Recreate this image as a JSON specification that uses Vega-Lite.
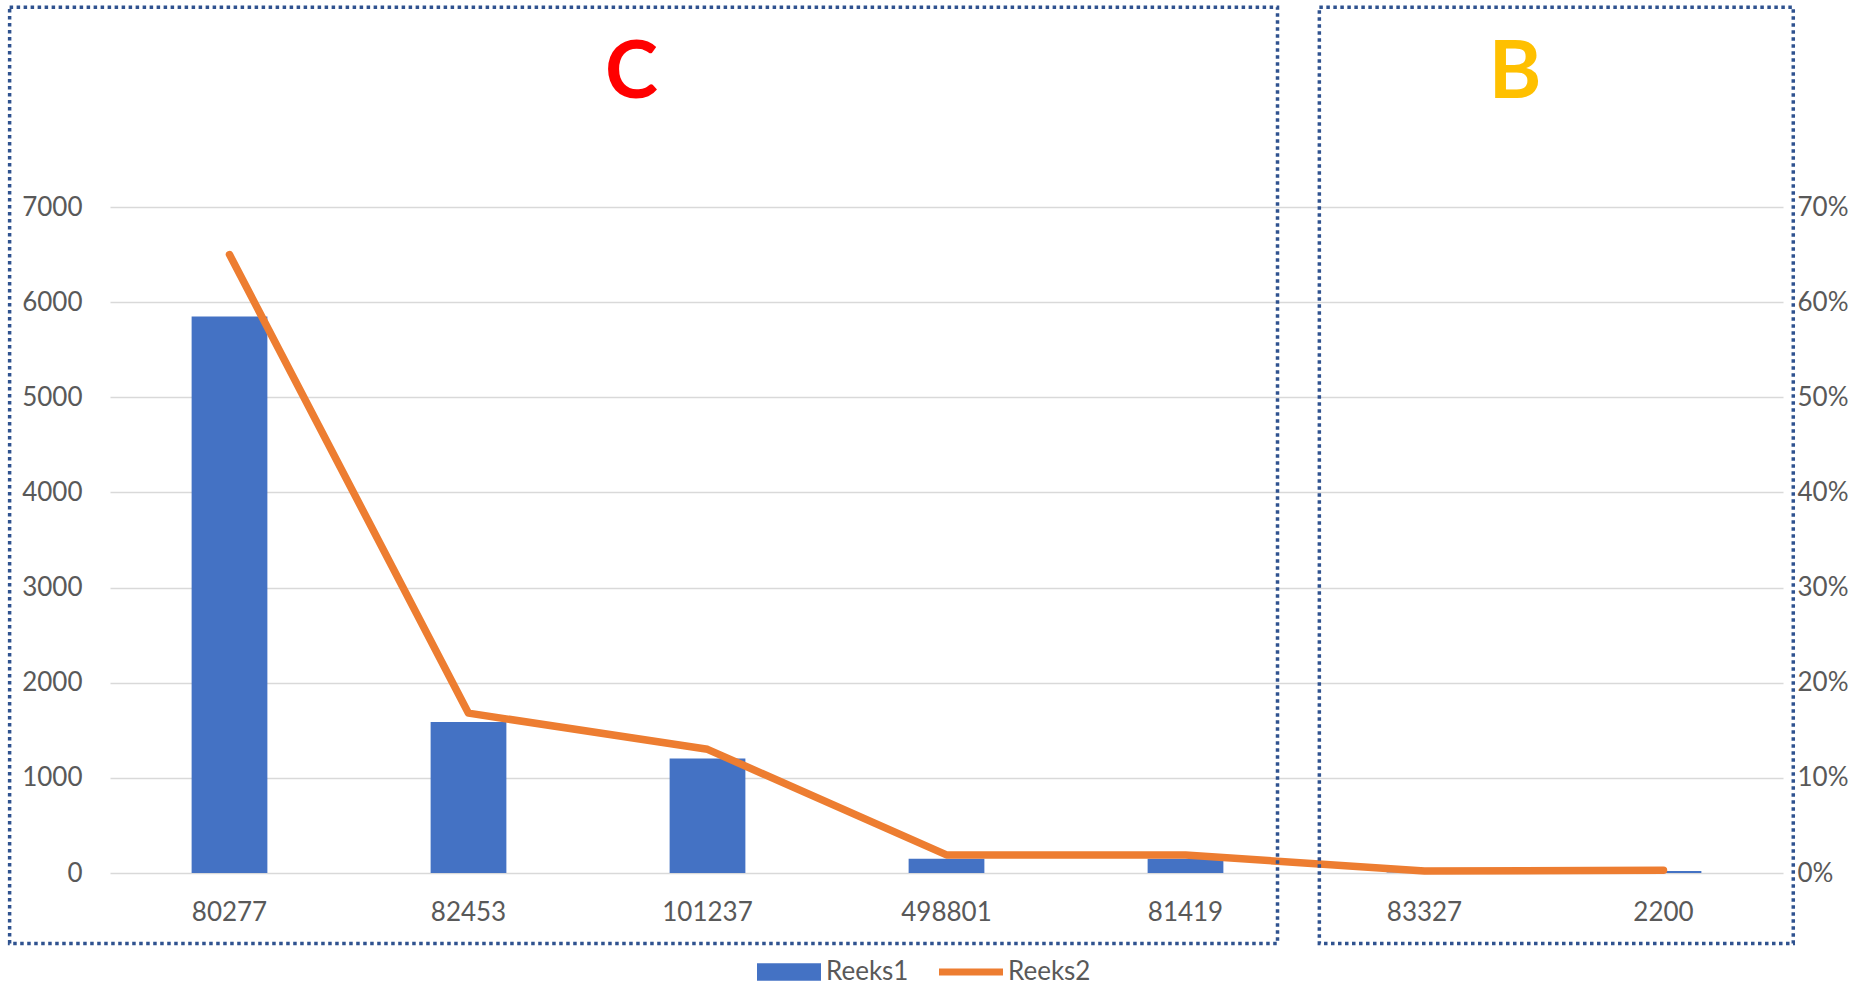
{
  "$schema": "https://vega.github.io/schema/vega-lite/v6.json",
  "width": 1673,
  "height": 666,
  "autosize": {"type": "none"},
  "padding": {"left": 110, "top": 207, "right": 89, "bottom": 112},
  "background": "white",
  "config": {"view": {"stroke": null}, "font": "Lato"},
  "data": {
    "values": [
      {"id": "80277", "Reeks1": 5850, "Reeks2": 0.65},
      {"id": "82453", "Reeks1": 1586, "Reeks2": 0.168},
      {"id": "101237", "Reeks1": 1204, "Reeks2": 0.13},
      {"id": "498801", "Reeks1": 150, "Reeks2": 0.019},
      {"id": "81419", "Reeks1": 150, "Reeks2": 0.019},
      {"id": "83327", "Reeks1": 4, "Reeks2": 0.002},
      {"id": "2200", "Reeks1": 20, "Reeks2": 0.003}
    ]
  },
  "layer": [
    {
      "mark": {"type": "bar"},
      "encoding": {
        "x": {
          "field": "id", "type": "nominal", "sort": null,
          "scale": {"paddingInner": 0.683, "paddingOuter": 0.3415},
          "axis": {"title": null, "labelAngle": 0, "domain": false, "ticks": false, "labelPadding": 26, "labelFontSize": 26, "labelFont": "Lato", "labelColor": "#595959"}
        },
        "y": {
          "field": "Reeks1", "type": "quantitative",
          "scale": {"domain": [0, 7000], "nice": false},
          "axis": {"title": null, "format": "d", "values": [0, 1000, 2000, 3000, 4000, 5000, 6000, 7000], "domain": false, "ticks": false, "grid": true, "gridColor": "#D9D9D9", "gridWidth": 1.3, "labelPadding": 28, "labelFontSize": 26, "labelFont": "Lato", "labelColor": "#595959"}
        },
        "color": {
          "datum": "Reeks1",
          "scale": {"domain": ["Reeks1", "Reeks2"], "range": ["#4472C4", "#ED7D31"]},
          "legend": {
            "orient": "none", "legendX": 647, "legendY": 733, "direction": "horizontal", "title": null,
            "symbolSize": 4096, "labelFontSize": 26, "labelFont": "Lato", "labelColor": "#595959",
            "labelOffset": 5, "columnPadding": 30, "symbolStrokeWidth": 0,
            "encode": {"symbols": {"update": {
              "shape": {"signal": "datum.value === 'Reeks1' ? 'M-1,-0.27H1V0.27H-1Z' : 'M-1,-0.11H1V0.11H-1Z'"},
              "fill": {"signal": "datum.value === 'Reeks1' ? '#4472C4' : '#ED7D31'"},
              "stroke": {"value": "transparent"},
              "opacity": {"value": 1}
            }}}
          }
        }
      }
    },
    {
      "mark": {"type": "line", "strokeWidth": 7.5, "strokeCap": "round", "strokeJoin": "round"},
      "encoding": {
        "x": {"field": "id", "type": "nominal", "sort": null, "scale": {"paddingInner": 0.683, "paddingOuter": 0.3415}, "axis": null},
        "y": {
          "field": "Reeks2", "type": "quantitative",
          "scale": {"domain": [0, 0.7], "nice": false},
          "axis": {"orient": "right", "title": null, "format": ".0%", "values": [0, 0.1, 0.2, 0.3, 0.4, 0.5, 0.6, 0.7], "domain": false, "ticks": false, "grid": false, "labelPadding": 14, "labelFontSize": 26, "labelFont": "Lato", "labelColor": "#595959"}
        },
        "color": {
          "datum": "Reeks2",
          "scale": {"domain": ["Reeks1", "Reeks2"], "range": ["#4472C4", "#ED7D31"]},
          "legend": {
            "orient": "none", "legendX": 647, "legendY": 733, "direction": "horizontal", "title": null,
            "symbolSize": 4096, "labelFontSize": 26, "labelFont": "Lato", "labelColor": "#595959",
            "labelOffset": 5, "columnPadding": 30, "symbolStrokeWidth": 0,
            "encode": {"symbols": {"update": {
              "shape": {"signal": "datum.value === 'Reeks1' ? 'M-1,-0.27H1V0.27H-1Z' : 'M-1,-0.11H1V0.11H-1Z'"},
              "fill": {"signal": "datum.value === 'Reeks1' ? '#4472C4' : '#ED7D31'"},
              "stroke": {"value": "transparent"},
              "opacity": {"value": 1}
            }}}
          }
        }
      }
    },
    {
      "data": {"values": [{}]},
      "mark": {"type": "rect", "fill": "transparent", "stroke": "#2F528F", "strokeWidth": 3.5, "strokeDash": [3.5, 3.5]},
      "encoding": {
        "x": {"datum": -0.92, "type": "quantitative", "scale": {"domain": [-0.5, 6.5], "nice": false, "zero": false}, "axis": null},
        "x2": {"datum": 4.385},
        "y": {"datum": -741, "type": "quantitative", "scale": {"domain": [0, 7000], "nice": false, "zero": false}, "axis": null},
        "y2": {"datum": 9100}
      }
    },
    {
      "data": {"values": [{}]},
      "mark": {"type": "rect", "fill": "transparent", "stroke": "#2F528F", "strokeWidth": 3.5, "strokeDash": [3.5, 3.5]},
      "encoding": {
        "x": {"datum": 4.56, "type": "quantitative", "scale": {"domain": [-0.5, 6.5], "nice": false, "zero": false}, "axis": null},
        "x2": {"datum": 6.543},
        "y": {"datum": -741, "type": "quantitative", "scale": {"domain": [0, 7000], "nice": false, "zero": false}, "axis": null},
        "y2": {"datum": 9100}
      }
    },
    {
      "data": {"values": [{"t": "C"}]},
      "mark": {"type": "text", "fontSize": 80, "fontWeight": "bold", "font": "Lato", "color": "#FF0000", "align": "center", "baseline": "alphabetic"},
      "encoding": {
        "text": {"field": "t"},
        "x": {"datum": 1.682, "type": "quantitative", "scale": {"domain": [-0.5, 6.5], "nice": false, "zero": false}, "axis": null},
        "y": {"datum": 8142, "type": "quantitative", "scale": {"domain": [0, 7000], "nice": false, "zero": false}, "axis": null}
      }
    },
    {
      "data": {"values": [{"t": "B"}]},
      "mark": {"type": "text", "fontSize": 80, "fontWeight": "bold", "font": "Lato", "color": "#FFC000", "align": "center", "baseline": "alphabetic"},
      "encoding": {
        "text": {"field": "t"},
        "x": {"datum": 5.379, "type": "quantitative", "scale": {"domain": [-0.5, 6.5], "nice": false, "zero": false}, "axis": null},
        "y": {"datum": 8142, "type": "quantitative", "scale": {"domain": [0, 7000], "nice": false, "zero": false}, "axis": null}
      }
    }
  ],
  "resolve": {"scale": {"x": "independent", "y": "independent"}}
}
